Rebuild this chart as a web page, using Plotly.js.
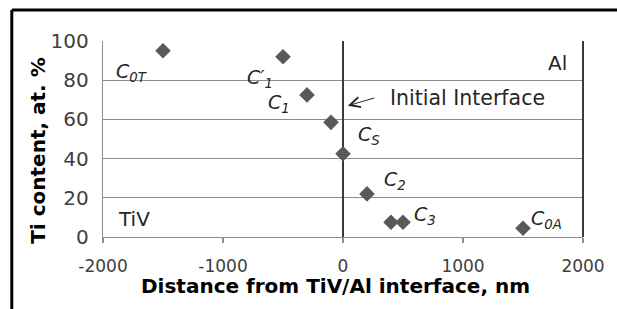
<!DOCTYPE html>
<html>
<head>
<meta charset="utf-8">
<script src="https://cdn.plot.ly/plotly-3.0.1.min.js"></script>
<style>html,body{margin:0;padding:0;background:#fff;}#chart{width:617px;height:309px;}</style>
</head>
<body>
<div id="chart"></div>
<script>
// Data
const distance = [-1500, -500, -300, -100, 0, 200, 400, 500, 1500];
const tiContent = [95, 92, 72.5, 58.5, 42.5, 22, 7.5, 7.5, 4.5];
const xTicks = [-2000, -1000, 0, 1000, 2000];
const yTicks = [0, 20, 40, 60, 80, 100];
const pointLabels = ['C<sub>0T</sub>', 'C\u2032<sub>1</sub>', 'C<sub>1</sub>', 'C<sub>S</sub>', 'C<sub>2</sub>', 'C<sub>3</sub>', 'C<sub>0A</sub>'];
const labelX = [-1760, -690, -530, 215, 435, 680, 1695];
const labelY = [84, 81, 68, 52, 29, 11, 9];

const FONT = '"DejaVu Sans", sans-serif';

const annotations = pointLabels.map((t, i) => ({
  x: labelX[i], y: labelY[i], xref: 'x', yref: 'y',
  text: '<i>' + t + '</i>', showarrow: false, xanchor: 'center', yanchor: 'middle',
  font: {family: FONT, size: 19, color: '#262626'}
}));
annotations.push(
  {x: 1790, y: 89, xref: 'x', yref: 'y', text: 'Al', showarrow: false, xanchor: 'center', yanchor: 'middle', font: {family: FONT, size: 20, color: '#262626'}},
  {x: 1040, y: 71, xref: 'x', yref: 'y', text: 'Initial Interface', showarrow: false, xanchor: 'center', yanchor: 'middle', font: {family: FONT, size: 20.5, color: '#262626'}},
  {x: -1740, y: 9, xref: 'x', yref: 'y', text: 'TiV', showarrow: false, xanchor: 'center', yanchor: 'middle', font: {family: FONT, size: 20, color: '#262626'}},
  {x: 40, y: 67, xref: 'x', yref: 'y', text: ' ', showarrow: true, ax: 31, ay: -9,
   arrowhead: 5, arrowsize: 2, arrowwidth: 1, arrowcolor: '#262626', standoff: 0, startstandoff: 0},
  {x: -0.1354, y: 0.44, xref: 'paper', yref: 'paper', text: '<b>Ti content, at. %</b>', textangle: -90, showarrow: false,
   xanchor: 'center', yanchor: 'middle', font: {family: FONT, size: 20, color: '#000'}},
  {x: 0.485, y: -0.25, xref: 'paper', yref: 'paper', text: '<b>Distance from TiV/Al interface, nm</b>', showarrow: false,
   xanchor: 'center', yanchor: 'middle', font: {family: FONT, size: 20, color: '#000'}}
);

const trace = {
  x: distance, y: tiContent, type: 'scatter', mode: 'markers',
  marker: {symbol: 'diamond', size: 12, color: '#595959'},
  hoverinfo: 'none', cliponaxis: false
};

const layout = {
  width: 617, height: 309,
  margin: {l: 103, r: 34, t: 41, b: 72},
  paper_bgcolor: '#fff', plot_bgcolor: '#fff',
  showlegend: false,
  font: {family: FONT, size: 18, color: '#404040'},
  xaxis: {
    range: [-2000, 2000], tickvals: xTicks, ticktext: xTicks.map(String),
    showgrid: false, zeroline: true, zerolinecolor: '#3a3a3a', zerolinewidth: 2,
    showline: true, linecolor: '#8c8c8c', linewidth: 1.2,
    ticks: 'outside', ticklen: 5, tickcolor: '#8c8c8c', tickwidth: 1.2,
    ticklabelstandoff: 8,
    tickfont: {family: FONT, size: 17, color: '#404040'}
  },
  yaxis: {
    range: [0, 100], tickvals: yTicks, ticktext: yTicks.map(String),
    showgrid: true, gridcolor: '#8c8c8c', gridwidth: 1.2,
    zeroline: false, showline: true, linecolor: '#8c8c8c', linewidth: 1.2,
    ticks: '', ticklabelstandoff: 9,
    tickfont: {family: FONT, size: 20, color: '#404040'}
  },
  shapes: [
    {type: 'line', xref: 'paper', yref: 'paper', x0: 1, x1: 1, y0: 0, y1: 1, line: {color: '#3a3a3a', width: 2}},
    {type: 'line', xref: 'paper', yref: 'paper', x0: -0.19, x1: 1.08, y0: 1.158, y1: 1.158, line: {color: '#000', width: 3}},
    {type: 'line', xref: 'paper', yref: 'paper', x0: -0.19, x1: -0.19, y0: 1.158, y1: -0.37, line: {color: '#000', width: 3}}
  ],
  annotations: annotations
};

Plotly.newPlot('chart', [trace], layout, {staticPlot: true, displayModeBar: false});
</script>
</body>
</html>
